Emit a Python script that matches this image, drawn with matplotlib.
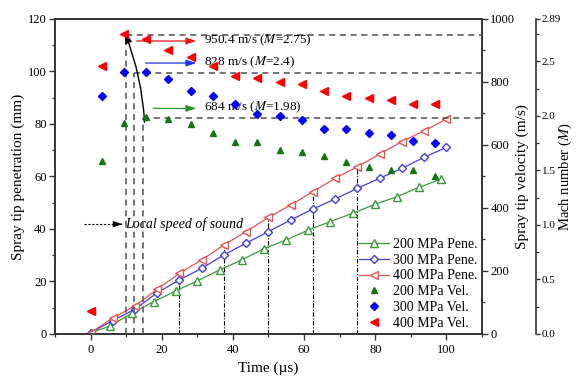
import matplotlib.pyplot as plt
from matplotlib.ticker import MultipleLocator, FixedLocator
from matplotlib.lines import Line2D

plt.rcParams['font.family'] = ['Liberation Serif', 'DejaVu Serif']
plt.rcParams['mathtext.fontset'] = 'stix'

# spray tip penetration (mm)
t_pene = [0, 6.25, 12.5, 18.75, 25, 31.25, 37.5, 43.75, 50,
          56.25, 62.5, 68.75, 75, 81.25, 87.5, 93.75, 100]
t_pene_200 = [0, 5.5, 11.6, 17.8, 24, 30, 36.3, 42.5, 48.8,
              55, 61.2, 67.4, 73.7, 80, 86.1, 92.4, 98.6]
pene_200 = [0.4, 3.0, 7.9, 12.3, 16.4, 20.2, 24.4, 28.2, 32.5,
            35.8, 39.6, 42.8, 46.0, 49.4, 52.3, 55.9, 59.0]
pene_300 = [0.4, 5.1, 9.4, 15.7, 20.6, 25.0, 30.1, 34.6, 39.0,
            43.4, 47.6, 51.4, 55.5, 59.3, 63.1, 67.3, 71.1]
pene_400 = [0.5, 6.0, 10.7, 17.0, 23.1, 28.2, 33.9, 39.0, 44.4,
            49.1, 54.2, 59.3, 63.7, 68.5, 73.3, 77.4, 81.8]

# spray tip velocity (m/s)
t_vel = [3.125, 9.375, 15.625, 21.875, 28.125, 34.375, 40.625, 46.875,
         53.125, 59.375, 65.625, 71.875, 78.125, 84.375, 90.625, 96.875]
vel_200 = [549, 671, 688, 682, 666, 637, 609, 609,
           584, 577, 566, 545, 529, 521, 521, 500]
vel_300 = [756, 830, 830, 808, 772, 756, 730, 698,
           692, 679, 651, 651, 637, 632, 614, 605]
t_vel_400 = [0] + t_vel
vel_400 = [73, 851, 951, 937, 902, 880, 852, 820, 814,
           801, 793, 771, 756, 750, 743, 729, 729]

# peak velocities and Mach numbers
peak_t = [10, 12.3, 14.8]
peak_v = [950.4, 828, 684]
peak_M = [2.75, 2.4, 1.98]
peak_col = ['#ee1111', '#2233ee', '#229922']
arrow_v = [930, 860, 716]
arrow_x0 = [12.2, 14.7, 16.9]

# times marked with dash-dot drop lines
drop_t = [25, 37.5, 50, 62.5, 75]

c200, c300, c400 = '#3a9a3a', '#4040e0', '#e85050'
fv200, fv300, fv400 = '#117711', '#0000ff', '#ff0000'
frame = '#333333'

fig = plt.figure(figsize=(5.78, 3.79), dpi=100)
ax = fig.add_axes([0.095, 0.119, 0.739, 0.831])
ax2 = ax.twinx()
ax3 = ax.twinx()

# penetration
ax.plot(t_pene_200, pene_200, '-', marker='^', color=c200, mfc='white', ms=5.5, lw=0.9, zorder=4)
ax.plot(t_pene, pene_300, '-', marker='D', color=c300, mfc='white', ms=4.5, lw=0.9, zorder=4)
ax.plot(t_pene, pene_400, '-', marker='<', color=c400, mfc='white', ms=5.5, lw=0.9, zorder=4)

pene_at = dict(zip(t_pene, pene_400))
ax.vlines(drop_t, 0, [pene_at[t] for t in drop_t], colors='black', linestyles=(0, (4, 1.5, 1, 1.5)), lw=0.8, zorder=3)

# local speed of sound note
ax.plot([-1.9, 8.2], [41.8, 41.8], color='black', ls=(0, (2, 1.5)), lw=0.8)
ax.annotate('', xy=(9.6, 41.8), xytext=(7.8, 41.8),
            arrowprops=dict(arrowstyle='-|>,head_length=0.5,head_width=0.18', color='black', lw=0.8))
ax.text(9.7, 41.8, 'Local speed of sound', style='italic', fontsize=10, va='center', ha='left')

ax.set_xlim(-10, 110)
ax.set_ylim(0, 120)
ax.xaxis.set_major_locator(MultipleLocator(20))
ax.xaxis.set_minor_locator(MultipleLocator(10))
ax.yaxis.set_major_locator(MultipleLocator(20))
ax.yaxis.set_minor_locator(MultipleLocator(10))
ax.set_xlabel('Time (µs)', fontsize=11, labelpad=4)
ax.set_ylabel('Spray tip penetration (mm)', fontsize=11, labelpad=2)

# velocity
ax2.plot(t_vel, vel_200, '^', color=fv200, ms=5, ls='none', zorder=5)
ax2.plot(t_vel, vel_300, 'D', color=fv300, ms=4.5, ls='none', zorder=5)
ax2.plot(t_vel_400, vel_400, '<', color=fv400, ms=5.5, ls='none', zorder=5)
ax2.set_ylim(0, 1000)
ax2.yaxis.set_major_locator(MultipleLocator(200))
ax2.yaxis.set_minor_locator(MultipleLocator(100))
ax2.set_ylabel('Spray tip velocity (m/s)', fontsize=11, labelpad=0)

for t, v, m, c, ya, x0 in zip(peak_t, peak_v, peak_M, peak_col, arrow_v, arrow_x0):
    ax2.hlines(v, t, 110, colors='#505050', linestyles=(0, (4, 3)), lw=1.1, zorder=3)
    ax2.vlines(t, 0, v, colors='#505050', linestyles=(0, (4, 3)), lw=1.1, zorder=3)
    ax2.annotate('', xy=(30.5, ya), xytext=(x0, ya),
                 arrowprops=dict(arrowstyle='-|>,head_length=0.6,head_width=0.2', color=c, lw=0.9))
    ax2.text(32, ya + 3, '%g m/s ($M$=%g)' % (v, m), fontsize=9.5, va='center', ha='left')

# curved arrow through the peaks
ax2.annotate('', xy=(9.6, 957), xytext=(15.2, 672),
             arrowprops=dict(arrowstyle='-|>,head_length=0.6,head_width=0.2', color='black', lw=1.0,
                             connectionstyle='arc3,rad=0.08', shrinkA=0, shrinkB=0))

# Mach number axis
ax3.set_ylim(0, 2.89)
ax3.spines['right'].set_position(('axes', 1.127))
for s in ['left', 'top', 'bottom']:
    ax3.spines[s].set_visible(False)
ax3.yaxis.set_major_locator(FixedLocator([0, 0.5, 1.0, 1.5, 2.0, 2.5, 2.89]))
ax3.yaxis.set_minor_locator(FixedLocator([0.25, 0.75, 1.25, 1.75, 2.25, 2.75]))
ax3.set_yticklabels(['0.0', '0.5', '1.0', '1.5', '2.0', '2.5', '2.89'])
ax3.set_ylabel('Mach number ($M$)', fontsize=10.5, labelpad=-3)

for a in (ax, ax2, ax3):
    for s in a.spines.values():
        s.set_color(frame)
        s.set_linewidth(1.2)
    a.tick_params(which='major', direction='out', length=4, width=1, colors=frame, labelsize=9, labelcolor='black')
    a.tick_params(which='minor', direction='out', length=2.5, width=0.9, colors=frame)
ax.tick_params(axis='y', pad=2)
ax2.tick_params(axis='y', pad=2)
ax3.tick_params(axis='y', which='major', pad=1, length=3, labelsize=8)

handles = [
    Line2D([], [], color=c200, marker='^', mfc='white', ms=5.5, lw=0.9),
    Line2D([], [], color=c300, marker='D', mfc='white', ms=4.5, lw=0.9),
    Line2D([], [], color=c400, marker='<', mfc='white', ms=5.5, lw=0.9),
    Line2D([], [], color=fv200, marker='^', ms=5, ls='none'),
    Line2D([], [], color=fv300, marker='D', ms=4.5, ls='none'),
    Line2D([], [], color=fv400, marker='<', ms=5.5, ls='none'),
]
labels = ['200 MPa Pene.', '300 MPa Pene.', '400 MPa Pene.',
          '200 MPa Vel.', '300 MPa Vel.', '400 MPa Vel.']
ax3.legend(handles, labels, loc='lower right', bbox_to_anchor=(1.0, 0.0), frameon=False,
           fontsize=10, handlelength=2.2, handletextpad=0.3, labelspacing=0.2,
           borderaxespad=0.1, borderpad=0.2)

plt.savefig('out.png', dpi=100)
